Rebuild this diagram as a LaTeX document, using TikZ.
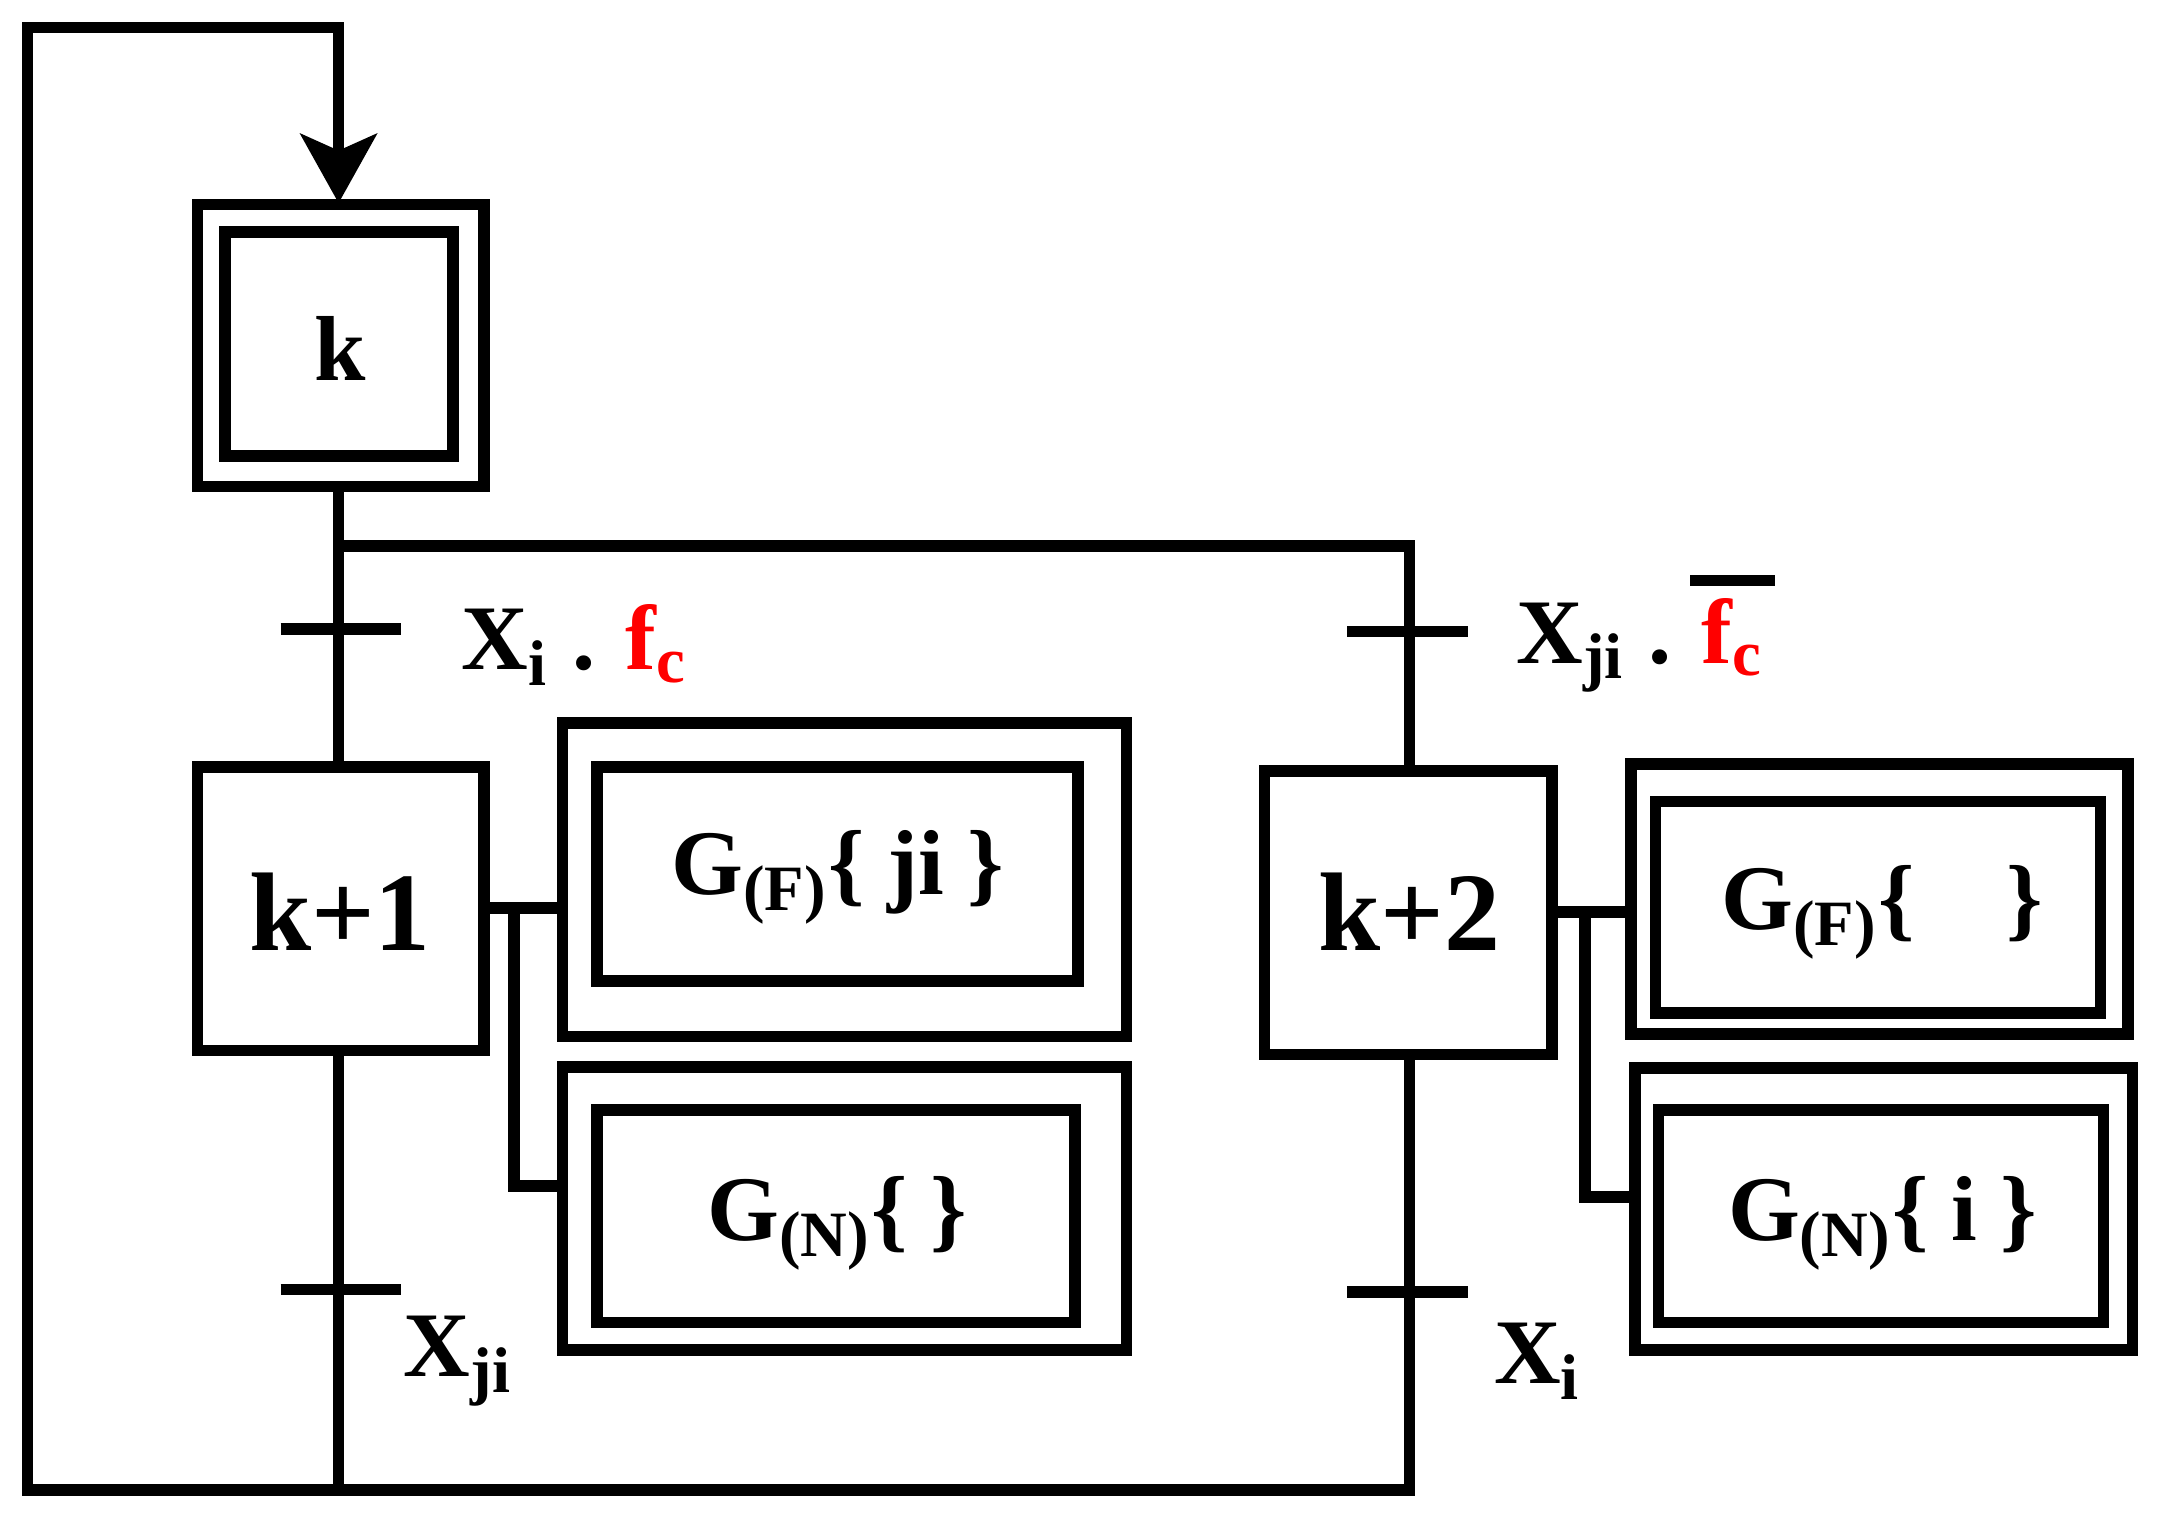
\documentclass[tikz,border=0pt]{standalone}
\usepackage{fontspec}
\setmainfont{Liberation Serif}
\usetikzlibrary{arrows.meta}
\begin{document}
\begin{tikzpicture}[x=0.01cm,y=-0.01cm,line width=2.4pt,
  box/.style={draw,line width=2.4pt},
  lab/.style={font=\fontsize{19}{20}\selectfont\bfseries,inner sep=0},
  stp/.style={font=\fontsize{23}{24}\selectfont\bfseries,inner sep=0}]
\useasboundingbox (0,0) rectangle (1568,1103);
% step k
\draw[box] (143,148) rectangle (350,352);
\draw[box] (163,168) rectangle (328,330);
\node[font=\fontsize{19}{20}\selectfont\bfseries] (k) at (246,252) {k};
% step k+1, k+2
\draw[box] (143,555) rectangle (350,760);
\node[stp] (k1) at (246,660) {k+1};
\draw[box] (915,558) rectangle (1123,763);
\node[stp] (k2) at (1020,660) {k+2};
% loop and arrow
\draw[-{Stealth[length=0.5cm,width=0.55cm,inset=0.12cm]}] (245,1078) -- (20,1078) -- (20,20) -- (245,20) -- (245,147);
\draw (245,352) -- (245,555);
\draw (245,760) -- (245,1082);
\draw (245,395) -- (1020,395) -- (1020,558);
\draw (1020,763) -- (1020,1078) -- (245,1078);
% transitions
\draw (203,455) -- (290,455);
\draw (203,933) -- (290,933);
\draw (975,457) -- (1062,457);
\draw (975,935) -- (1062,935);
\node[lab,anchor=west] (t1) at (330,467) {X\textsubscript{i} . \textcolor{red}{f\textsubscript{c}}};
\node[lab,anchor=west] (t2) at (1093,467) {X\textsubscript{ji} . \textcolor{red}{f\textsubscript{c}}};
\draw (1223,420) -- (1284,420);
\node[lab,anchor=west] (t3) at (288,985) {X\textsubscript{ji}};
\node[lab,anchor=west] (t4) at (1077,985) {X\textsubscript{i}};
% actions k+1
\draw (350,657) -- (407,657);
\draw (372,657) -- (372,858) -- (407,858);
\draw[box] (407,523) rectangle (815,750);
\draw[box] (432,555) rectangle (780,710);
\node[lab] (a1) at (606,635) {G\textsubscript{(F)}\{ ji \}};
\draw[box] (407,772) rectangle (815,977);
\draw[box] (432,803) rectangle (778,957);
\node[lab] (a2) at (606,885) {G\textsubscript{(N)}\{ \}};
% actions k+2
\draw (1123,660) -- (1180,660);
\draw (1147,660) -- (1147,866) -- (1183,866);
\draw[box] (1180,553) rectangle (1540,748);
\draw[box] (1198,580) rectangle (1520,733);
\node[lab] (a3) at (1362,660) {G\textsubscript{(F)}\{\quad\}};
\draw[box] (1183,773) rectangle (1543,977);
\draw[box] (1200,803) rectangle (1522,957);
\node[lab] (a4) at (1362,885) {G\textsubscript{(N)}\{ i \}};
\end{tikzpicture}
\end{document}
